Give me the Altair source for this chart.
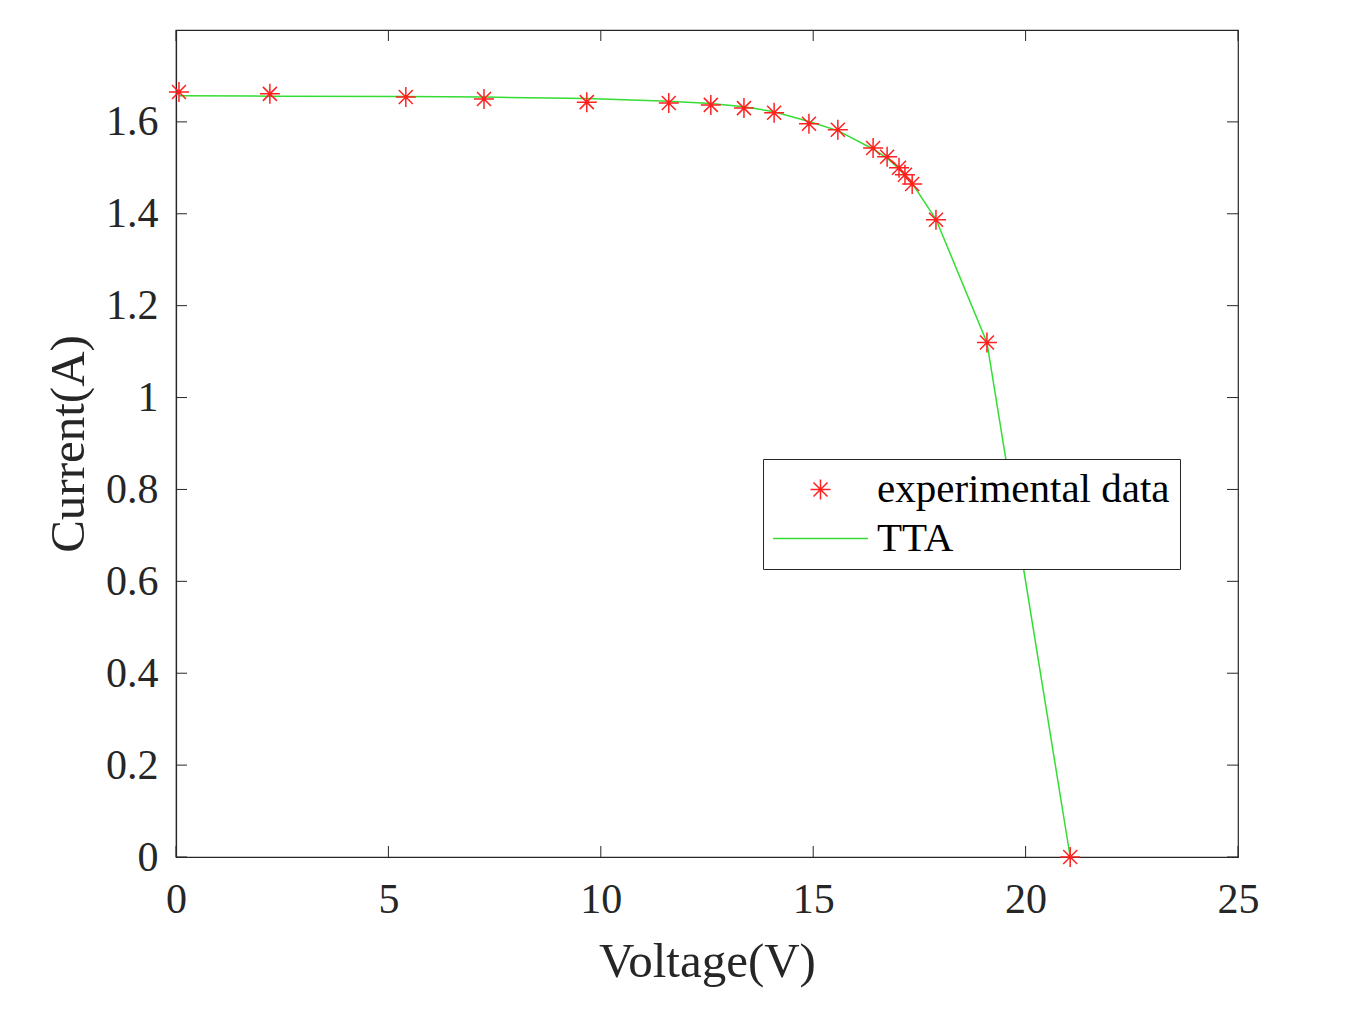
import altair as alt
import pandas as pd

# experimental I-V data
volt = [0.07, 2.21, 5.41, 7.25, 9.67, 11.6, 12.59, 13.37, 14.08, 14.9, 15.58,
        16.41, 16.74, 17.02, 17.16, 17.33, 17.89, 19.09, 21.05]
curr = [1.665, 1.661, 1.654, 1.650, 1.643, 1.641, 1.637, 1.630, 1.620, 1.596, 1.583,
        1.543, 1.524, 1.500, 1.485, 1.465, 1.387, 1.120, 0.0]
# TTA model curve at the same voltages
model = [1.657, 1.656, 1.655, 1.654, 1.651, 1.645, 1.640, 1.633, 1.622, 1.601, 1.581,
         1.541, 1.521, 1.498, 1.484, 1.466, 1.388, 1.120, 0.0]

xticks = [0, 5, 10, 15, 20, 25]
yticks = [0, 0.2, 0.4, 0.6, 0.8, 1.0, 1.2, 1.4, 1.6]
series_names = ["experimental data", "TTA"]

W, H = 1062, 827
FONT = "Liberation Serif"
STAR = "M-1,0L1,0M0,-1L0,1M-0.7,-0.7L0.7,0.7M-0.7,0.7L0.7,-0.7"
LINE = "M-4.75,0L4.75,0"
RED = "#ff2020"
GREEN = "#33dd33"
AX = "#262626"

pts = pd.DataFrame({"V": volt, "I": curr, "series": series_names[0]})
fit = pd.DataFrame({"V": volt, "I": model, "series": series_names[1]})

xs = alt.Scale(domain=[0, 25], nice=False, zero=False)
ys = alt.Scale(domain=[0, 1.8], nice=False, zero=False)
cs = alt.Scale(domain=series_names, range=[RED, GREEN])
shs = alt.Scale(domain=series_names, range=[STAR, LINE])

legend = alt.Legend(
    title=None, orient="none", legendX=587, legendY=429,
    labelFont=FONT, labelFontSize=41, labelColor="black", labelLimit=0,
    symbolSize=400, symbolStrokeWidth=1.5, symbolOffset=27, labelOffset=36,
    rowPadding=7, padding=10, strokeColor=AX, fillColor="white",
)

xaxis = alt.Axis(values=xticks, title="Voltage(V)", titleFont=FONT, titleFontSize=49,
                 titleFontWeight="normal", titleColor=AX, titlePadding=17,
                 labelFont=FONT, labelFontSize=42, labelColor=AX, labelPadding=22,
                 labelFlush=False, tickSize=0, domain=True, domainColor=AX,
                 domainWidth=1.2, grid=False)
yaxis = alt.Axis(values=yticks, title="Current(A)", titleFont=FONT, titleFontSize=49,
                 titleFontWeight="normal", titleColor=AX, titlePadding=12,
                 labelFont=FONT, labelFontSize=42, labelColor=AX, labelPadding=18,
                 labelFlush=False, labelExpr="format(datum.value, '~g')",
                 tickSize=0, domain=True, domainColor=AX, domainWidth=1.2, grid=False)

line = alt.Chart(fit).mark_line(strokeWidth=1.5).encode(
    x=alt.X("V:Q", scale=xs, axis=xaxis),
    y=alt.Y("I:Q", scale=ys, axis=yaxis),
    color=alt.Color("series:N", scale=cs, legend=legend),
)
stars = alt.Chart(pts).mark_point(filled=False, strokeWidth=1.5, opacity=1, size=400).encode(
    x=alt.X("V:Q", scale=xs),
    y=alt.Y("I:Q", scale=ys),
    color=alt.Color("series:N", scale=cs, legend=legend),
    shape=alt.Shape("series:N", scale=shs, legend=legend),
)

xt = pd.DataFrame({"t": xticks})
yt = pd.DataFrame({"t": yticks})
tick_style = dict(color=AX, strokeWidth=1)
tb = alt.Chart(xt).mark_rule(**tick_style).encode(
    x=alt.X("t:Q", scale=xs), y=alt.value(H), y2=alt.value(H - 11))
tt = alt.Chart(xt).mark_rule(**tick_style).encode(
    x=alt.X("t:Q", scale=xs), y=alt.value(0), y2=alt.value(11))
tl = alt.Chart(yt).mark_rule(**tick_style).encode(
    y=alt.Y("t:Q", scale=ys), x=alt.value(0), x2=alt.value(11))
tr = alt.Chart(yt).mark_rule(**tick_style).encode(
    y=alt.Y("t:Q", scale=ys), x=alt.value(W), x2=alt.value(W - 11))

chart = alt.layer(tb, tt, tl, tr, line, stars).properties(
    width=W, height=H, background="white",
    autosize=alt.AutoSizeParams(type="none"),
    padding={"left": 168, "top": 22, "right": 100, "bottom": 150},
).configure_view(stroke=AX, strokeWidth=1.2)

chart.save("out.html", embed_options={"renderer": "svg", "actions": False})
